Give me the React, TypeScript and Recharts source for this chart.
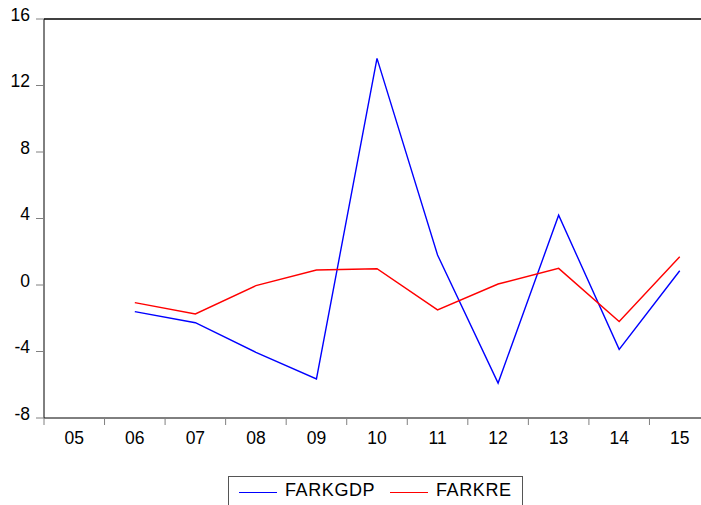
import { LineChart, Line, XAxis, YAxis, ReferenceLine } from 'recharts';

const years = ['05', '06', '07', '08', '09', '10', '11', '12', '13', '14', '15'];
const farkgdp = [null, -1.6, -2.27, -4.05, -5.65, 13.63, 1.8, -5.9, 4.2, -3.87, 0.86];
const farkre = [null, -1.06, -1.74, -0.04, 0.9, 0.98, -1.5, 0.06, 1.0, -2.2, 1.7];
const yTicks = [-8, -4, 0, 4, 8, 12, 16];

const data = years.map((year, i) => ({ year, FARKGDP: farkgdp[i], FARKRE: farkre[i] }));

const FONT = '"Liberation Sans", Arial, sans-serif';
const CHART_W = 720;
const LEFT = 44;
const RIGHT = 10;
const BAND = (CHART_W - LEFT - RIGHT) / years.length;

function XTick(props: any) {
  const { x, y, payload } = props;
  const axisY = y - 8;
  return (
    <g>
      <line x1={x - BAND / 2} x2={x - BAND / 2} y1={axisY} y2={axisY + 7} stroke="#808080" />
      <text x={x} y={y + 6} dy="0.71em" textAnchor="middle" fontSize={17.5} fontFamily={FONT} fill="#000">
        {payload.value}
      </text>
    </g>
  );
}

function YTick(props: any) {
  const { x, y, payload } = props;
  return (
    <text x={x} y={y - 4.5} dy="0.355em" textAnchor="end" fontSize={17.5} fontFamily={FONT} fill="#000">
      {payload.value}
    </text>
  );
}

export default function App() {
  return (
    <div style={{ position: 'absolute', left: 0, top: 0, width: 701, height: 505, overflow: 'hidden', background: '#fff' }}>
      <LineChart
        width={CHART_W}
        height={505}
        data={data}
        margin={{ top: 19, right: RIGHT, bottom: 57, left: 0 }}
      >
        <XAxis
          dataKey="year"
          scale="band"
          interval={0}
          height={30}
          tickLine={false}
          axisLine={{ stroke: '#000' }}
          tick={<XTick />}
        />
        <YAxis
          domain={[-8, 16]}
          ticks={yTicks}
          width={LEFT}
          tickSize={8}
          tickMargin={6}
          tickLine={{ stroke: '#808080' }}
          axisLine={{ stroke: '#000' }}
          tick={<YTick />}
        />
        <ReferenceLine y={16} stroke="#000" strokeWidth={1.5} />
        <Line
          dataKey="FARKGDP"
          stroke="#0000ff"
          strokeWidth={1.4}
          dot={false}
          isAnimationActive={false}
        />
        <Line
          dataKey="FARKRE"
          stroke="#ff0000"
          strokeWidth={1.4}
          dot={false}
          isAnimationActive={false}
        />
      </LineChart>
      <div
        style={{
          position: 'absolute',
          left: 228,
          top: 476,
          width: 295,
          height: 40,
          border: '1px solid #555',
          boxSizing: 'border-box',
          fontFamily: FONT,
          fontSize: 18,
          letterSpacing: 0.6,
        }}
      >
        <span style={{ position: 'absolute', left: 10, top: 15, width: 38, borderTop: '1px solid #0000ff' }} />
        <span style={{ position: 'absolute', left: 56, top: 3 }}>FARKGDP</span>
        <span style={{ position: 'absolute', left: 161, top: 15, width: 38, borderTop: '1px solid #ff0000' }} />
        <span style={{ position: 'absolute', left: 207, top: 3 }}>FARKRE</span>
      </div>
    </div>
  );
}
